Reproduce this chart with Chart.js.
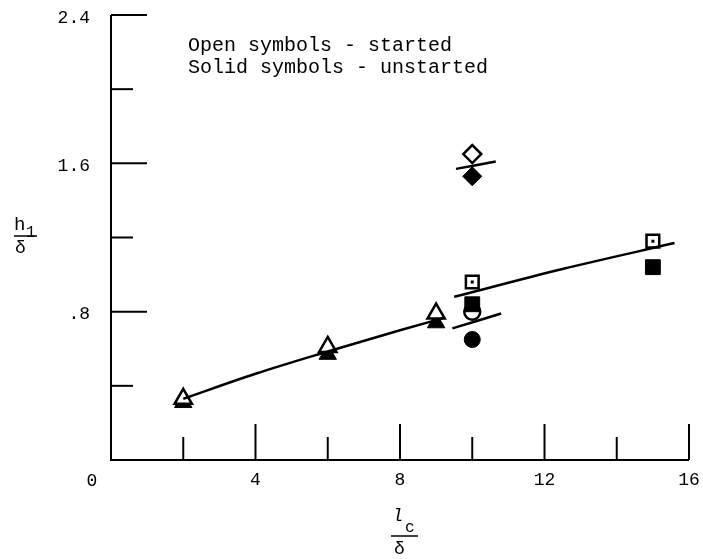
<!DOCTYPE html>
<html>
<head>
<meta charset="utf-8">
<script src="https://cdn.jsdelivr.net/npm/chart.js@4.4.1/dist/chart.umd.min.js"></script>
<style>
  html, body { margin: 0; padding: 0; background: #fff; }
  #wrap { width: 703px; height: 559px; }
</style>
</head>
<body>
<div id="wrap"><canvas id="c" width="703" height="559"></canvas></div>
<script>
// Axis ticks and their labels
const xTicks = [2, 4, 6, 8, 10, 12, 14, 16];
const xLabels = ['', '4', '', '8', '', '12', '', '16'];
const yTicks = [0.4, 0.8, 1.2, 1.6, 2.0, 2.4];
const yLabels = ['', '.8', '', '1.6', '', '2.4'];
const originLabel = '0';

// Triangles: open = started, solid = unstarted
const triX = [2, 6, 9];
const triOpen = [0.33, 0.61, 0.79];
const triSolid = [0.31, 0.57, 0.74];

// Diamonds
const diaX = [10];
const diaOpen = [1.65];
const diaSolid = [1.53];

// Squares
const sqX = [10, 15];
const sqOpen = [0.96, 1.18];
const sqSolid = [0.84, 1.04];

// Circles
const cirX = [10];
const cirOpen = [0.80];
const cirSolid = [0.65];

// Faired curves
const curveX = [2, 4, 6, 8, 9.2];
const curveY = [0.33, 0.465, 0.585, 0.70, 0.765];
const upperX = [9.5, 12.5, 15.6];
const upperY = [0.88, 1.03, 1.17];
const lowerX = [9.45, 10.8];
const lowerY = [0.71, 0.79];
const diaLineX = [9.55, 10.65];
const diaLineY = [1.57, 1.61];

const legendLines = ['Open symbols - started', 'Solid symbols - unstarted'];

const pts = (xs, ys) => xs.map((x, i) => ({ x: x, y: ys[i] }));
const FONT = '"Liberation Mono", "DejaVu Sans Mono", monospace';

function openSet(xs, ys, style, r, order) {
  return { data: pts(xs, ys), pointStyle: style, pointRadius: r, pointBackgroundColor: '#fff',
           pointBorderColor: '#000', pointBorderWidth: 2.5, showLine: false, order: order };
}
function solidSet(xs, ys, style, r, order) {
  return { data: pts(xs, ys), pointStyle: style, pointRadius: r, pointBackgroundColor: '#000',
           pointBorderColor: '#000', pointBorderWidth: 1, showLine: false, order: order };
}
function lineSet(xs, ys, tension) {
  return { data: pts(xs, ys), showLine: true, borderColor: '#000', borderWidth: 2.5,
           pointRadius: 0, tension: tension, cubicInterpolationMode: 'monotone', order: 0 };
}

const axesPlugin = {
  id: 'typedAxes',
  afterDatasetsDraw(chart) {
    const ctx = chart.ctx;
    const xs = chart.scales.x, ys = chart.scales.y;
    const a = chart.chartArea;
    ctx.save();
    ctx.strokeStyle = '#000';
    ctx.fillStyle = '#000';

    // dots inside open squares
    chart.data.datasets.forEach((ds, i) => {
      if (ds.centerDot) {
        chart.getDatasetMeta(i).data.forEach(p => ctx.fillRect(p.x - 1.5, p.y - 1.5, 3, 3));
      }
    });

    // axis lines
    ctx.lineWidth = 2;
    ctx.beginPath();
    ctx.moveTo(a.left, a.top);
    ctx.lineTo(a.left, a.bottom);
    ctx.lineTo(a.right, a.bottom);
    ctx.stroke();

    // inward tick marks
    ctx.lineWidth = 2;
    xTicks.forEach((v, i) => {
      const px = xs.getPixelForValue(v);
      const len = xLabels[i] ? 36 : 23;
      ctx.beginPath();
      ctx.moveTo(px, a.bottom);
      ctx.lineTo(px, a.bottom - len);
      ctx.stroke();
    });
    yTicks.forEach((v, i) => {
      const py = ys.getPixelForValue(v);
      const len = yLabels[i] ? 36 : 22;
      ctx.beginPath();
      ctx.moveTo(a.left, py);
      ctx.lineTo(a.left + len, py);
      ctx.stroke();
    });

    // tick labels
    ctx.font = '18px ' + FONT;
    ctx.textBaseline = 'middle';
    ctx.textAlign = 'center';
    xTicks.forEach((v, i) => {
      if (xLabels[i]) ctx.fillText(xLabels[i], xs.getPixelForValue(v), a.bottom + 20);
    });
    ctx.fillText(originLabel, xs.getPixelForValue(0) - 19, a.bottom + 21);
    ctx.textAlign = 'right';
    yTicks.forEach((v, i) => {
      if (yLabels[i]) ctx.fillText(yLabels[i], a.left - 21, ys.getPixelForValue(v) + 3);
    });

    // note
    ctx.textAlign = 'left';
    ctx.font = '20px ' + FONT;
    ctx.fillText(legendLines[0], 188, 46);
    ctx.fillText(legendLines[1], 188, 68);

    // y-axis title h1 / delta
    ctx.textBaseline = 'alphabetic';
    ctx.font = '19px ' + FONT;
    ctx.fillText('h', 14, 230);
    ctx.font = '16px ' + FONT;
    ctx.fillText('1', 26, 237);
    ctx.lineWidth = 1.5;
    ctx.beginPath();
    ctx.moveTo(14, 236); ctx.lineTo(37, 236);
    ctx.stroke();
    ctx.font = '18px ' + FONT;
    ctx.fillText('\u03b4', 15, 253);

    // x-axis title lc / delta
    ctx.font = 'italic 19px ' + FONT;
    ctx.fillText('l', 392, 521);
    ctx.font = '16px ' + FONT;
    ctx.fillText('c', 405, 532);
    ctx.beginPath();
    ctx.moveTo(391, 536); ctx.lineTo(418, 536);
    ctx.stroke();
    ctx.font = '18px ' + FONT;
    ctx.fillText('\u03b4', 394, 554);

    ctx.restore();
  }
};

const sqOpenSet = openSet(sqX, sqOpen, 'rect', 9, 1);
sqOpenSet.centerDot = true;

new Chart(document.getElementById('c'), {
  type: 'scatter',
  data: {
    datasets: [
      lineSet(curveX, curveY, 0.4),
      lineSet(upperX, upperY, 0.4),
      lineSet(lowerX, lowerY, 0),
      lineSet(diaLineX, diaLineY, 0),
      openSet(triX, triOpen, 'triangle', 10, 1),
      openSet(diaX, diaOpen, 'rectRot', 9, 1),
      sqOpenSet,
      solidSet(triX, triSolid, 'triangle', 10, 2),
      solidSet(diaX, diaSolid, 'rectRot', 9.5, 2),
      solidSet(sqX, sqSolid, 'rect', 10.5, 2),
      solidSet(cirX, cirSolid, 'circle', 8, 2),
      openSet(cirX, cirOpen, 'circle', 8, 3)
    ]
  },
  options: {
    responsive: false,
    animation: false,
    events: [],
    layout: { padding: { left: 111, right: 14, top: 15, bottom: 99 } },
    scales: {
      x: { type: 'linear', min: 0, max: 16, display: false },
      y: { type: 'linear', min: 0, max: 2.4, display: false }
    },
    plugins: { legend: { display: false }, tooltip: { enabled: false } }
  },
  plugins: [axesPlugin]
});
</script>
</body>
</html>
